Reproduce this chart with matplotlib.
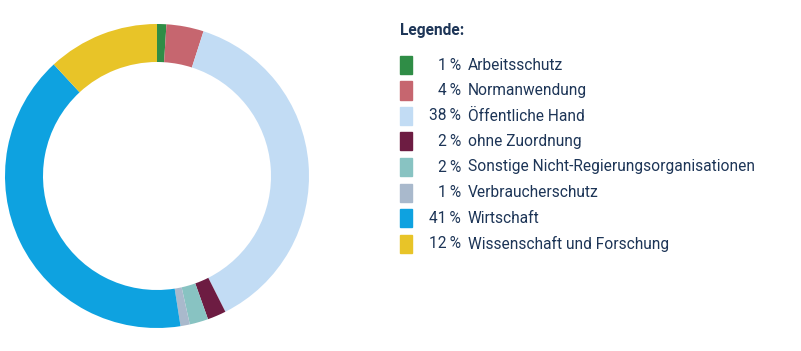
import matplotlib
matplotlib.use('Agg')
import matplotlib.pyplot as plt
from matplotlib.patches import Rectangle

labels = ["Arbeitsschutz", "Normanwendung", "Öffentliche Hand", "ohne Zuordnung",
          "Sonstige Nicht-Regierungsorganisationen", "Verbraucherschutz",
          "Wirtschaft", "Wissenschaft und Forschung"]
shares = [1, 4, 38, 2, 2, 1, 41, 12]
colors = ["#2f8d46", "#c6666f", "#c2dcf4", "#6d1c42", "#88c3c2", "#a9b9cc",
          "#0ea2e0", "#e8c428"]
text_color = "#1d3557"

plt.rcParams['font.family'] = ['Roboto', 'DejaVu Sans']

fig = plt.figure(figsize=(8.01, 3.51), dpi=100)
W, H = 801, 351

# donut
ax = fig.add_axes([5 / W, (H - 328) / H, 304 / W, 304 / H])
ax.pie(shares, colors=colors, startangle=90, counterclock=False,
       wedgeprops=dict(width=0.25, edgecolor='none'))
ax.set_xlim(-1, 1)
ax.set_ylim(-1, 1)
ax.set_aspect('equal')

# legend drawn by hand
fs = 11.2
fig.text(400 / W, 1 - 30 / H, "Legende:", fontsize=fs, fontweight='bold',
         color=text_color, va='center', ha='left')
for i, (lab, val, col) in enumerate(zip(labels, shares, colors)):
    y = 65 + i * 25.5
    fig.patches.append(Rectangle((400 / W, 1 - (y + 9) / H), 12 / W, 18 / H,
                                 transform=fig.transFigure, color=col))
    fig.text(461 / W, 1 - y / H, f"{val}\u2009%", fontsize=fs, color=text_color,
             va='center', ha='right')
    fig.text(468 / W, 1 - y / H, lab, fontsize=fs, color=text_color,
             va='center', ha='left')

plt.savefig("out.png", dpi=100)
